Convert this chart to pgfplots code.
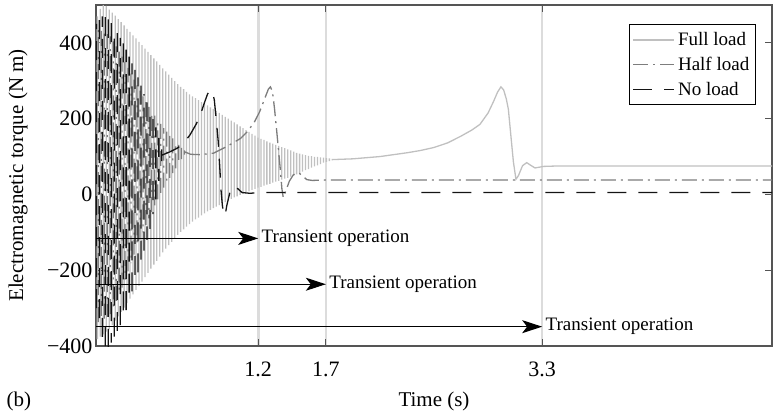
\documentclass[border=0pt]{standalone}
\usepackage{fontspec}
\setmainfont{Liberation Serif}
\usepackage{pgfplots}
\pgfplotsset{compat=1.18}
\usetikzlibrary{arrows.meta}

\definecolor{fullgray}{RGB}{192,192,192}
\definecolor{halfgray}{RGB}{125,125,125}
\definecolor{noblack}{RGB}{20,20,20}
\definecolor{markgray}{RGB}{220,220,220}
\definecolor{framegray}{RGB}{85,85,85}

\begin{document}
\begin{tikzpicture}
\useasboundingbox (-96bp,-67bp) rectangle (680bp,346bp);
\begin{axis}[
  width=676bp, height=341bp, scale only axis,
  xmin=0, xmax=5, ymin=-400, ymax=500,
  xtick={1.2,1.7,3.3}, xticklabels={1.2,1.7,3.3},
  ytick={-400,-200,0,200,400}, yticklabels={−400,−200,0,200,400},
  tick pos=both, tick align=inside, major tick length=7bp,
  tick style={framegray, line width=1bp},
  axis line style={framegray, line width=1.2bp},
  xmajorgrids, major grid style={markgray, line width=2.6bp},
  unbounded coords=jump,
  tick label style={font=\rmfamily\fontsize{22bp}{26bp}\selectfont},
  label style={font=\rmfamily\fontsize{21bp}{25bp}\selectfont},
  xticklabel style={yshift=-12bp},
  xlabel={Time (s)}, ylabel={Electromagnetic torque (N m)},
  xlabel style={at={(axis description cs:0.5,-0.176)}, anchor=base},
  ylabel style={at={(axis description cs:-0.1154,0.5)}, anchor=center},
  legend style={at={(0.976,0.944)}, anchor=north east, draw=black,
    line width=1bp, font=\rmfamily\fontsize{19bp}{22bp}\selectfont,
    inner xsep=3bp, inner ysep=4bp, row sep=2bp,
    nodes={inner xsep=3bp, inner ysep=4bp}, cells={anchor=west}},
  legend image code/.code={\draw[#1] (0bp,0bp) -- (41bp,0bp);},
]

% Full load: 50 Hz pulsation (one bar per cycle, trough to crest), then the run-up
\addplot[fullgray, line width=1.3bp] table[row sep=\\] {
t y \\
0.010 -382 \\ 0.010 470 \\ nan nan \\
0.032 -375 \\ 0.032 490 \\ nan nan \\
0.054 -369 \\ 0.054 500 \\ nan nan \\
0.076 -362 \\ 0.076 498 \\ nan nan \\
0.098 -356 \\ 0.098 488 \\ nan nan \\
0.120 -345 \\ 0.120 480 \\ nan nan \\
0.142 -333 \\ 0.142 472 \\ nan nan \\
0.164 -322 \\ 0.164 463 \\ nan nan \\
0.186 -310 \\ 0.186 455 \\ nan nan \\
0.208 -299 \\ 0.208 446 \\ nan nan \\
0.230 -287 \\ 0.230 437 \\ nan nan \\
0.252 -275 \\ 0.252 429 \\ nan nan \\
0.274 -264 \\ 0.274 420 \\ nan nan \\
0.296 -252 \\ 0.296 412 \\ nan nan \\
0.318 -241 \\ 0.318 403 \\ nan nan \\
0.340 -230 \\ 0.340 394 \\ nan nan \\
0.362 -218 \\ 0.362 385 \\ nan nan \\
0.384 -207 \\ 0.384 376 \\ nan nan \\
0.406 -196 \\ 0.406 368 \\ nan nan \\
0.428 -185 \\ 0.428 359 \\ nan nan \\
0.450 -175 \\ 0.450 351 \\ nan nan \\
0.472 -164 \\ 0.472 342 \\ nan nan \\
0.494 -153 \\ 0.494 333 \\ nan nan \\
0.516 -143 \\ 0.516 325 \\ nan nan \\
0.538 -134 \\ 0.538 316 \\ nan nan \\
0.560 -125 \\ 0.560 308 \\ nan nan \\
0.582 -116 \\ 0.582 299 \\ nan nan \\
0.604 -107 \\ 0.604 291 \\ nan nan \\
0.626 -99 \\ 0.626 284 \\ nan nan \\
0.648 -92 \\ 0.648 278 \\ nan nan \\
0.670 -85 \\ 0.670 271 \\ nan nan \\
0.692 -78 \\ 0.692 264 \\ nan nan \\
0.714 -72 \\ 0.714 259 \\ nan nan \\
0.736 -66 \\ 0.736 254 \\ nan nan \\
0.758 -61 \\ 0.758 249 \\ nan nan \\
0.780 -55 \\ 0.780 244 \\ nan nan \\
0.802 -50 \\ 0.802 240 \\ nan nan \\
0.824 -45 \\ 0.824 235 \\ nan nan \\
0.846 -41 \\ 0.846 230 \\ nan nan \\
0.868 -36 \\ 0.868 225 \\ nan nan \\
0.890 -32 \\ 0.890 220 \\ nan nan \\
0.912 -28 \\ 0.912 215 \\ nan nan \\
0.934 -24 \\ 0.934 210 \\ nan nan \\
0.956 -20 \\ 0.956 205 \\ nan nan \\
0.978 -16 \\ 0.978 200 \\ nan nan \\
1.000 -12 \\ 1.000 195 \\ nan nan \\
1.022 -8 \\ 1.022 190 \\ nan nan \\
1.044 -5 \\ 1.044 185 \\ nan nan \\
1.066 -1 \\ 1.066 180 \\ nan nan \\
1.088 2 \\ 1.088 175 \\ nan nan \\
1.110 5 \\ 1.110 170 \\ nan nan \\
1.132 8 \\ 1.132 165 \\ nan nan \\
1.154 12 \\ 1.154 160 \\ nan nan \\
1.176 15 \\ 1.176 155 \\ nan nan \\
1.198 18 \\ 1.198 150 \\ nan nan \\
1.220 20 \\ 1.220 147 \\ nan nan \\
1.242 23 \\ 1.242 144 \\ nan nan \\
1.264 26 \\ 1.264 140 \\ nan nan \\
1.286 28 \\ 1.286 137 \\ nan nan \\
1.308 31 \\ 1.308 134 \\ nan nan \\
1.330 34 \\ 1.330 131 \\ nan nan \\
1.352 36 \\ 1.352 128 \\ nan nan \\
1.374 39 \\ 1.374 125 \\ nan nan \\
1.396 42 \\ 1.396 122 \\ nan nan \\
1.418 44 \\ 1.418 119 \\ nan nan \\
1.440 47 \\ 1.440 116 \\ nan nan \\
1.462 50 \\ 1.462 113 \\ nan nan \\
1.484 53 \\ 1.484 110 \\ nan nan \\
1.506 56 \\ 1.506 108 \\ nan nan \\
1.528 60 \\ 1.528 106 \\ nan nan \\
1.550 64 \\ 1.550 104 \\ nan nan \\
1.572 67 \\ 1.572 102 \\ nan nan \\
1.594 71 \\ 1.594 101 \\ nan nan \\
1.616 74 \\ 1.616 99 \\ nan nan \\
1.638 77 \\ 1.638 99 \\ nan nan \\
1.660 80 \\ 1.660 98 \\ nan nan \\
1.682 84 \\ 1.682 97 \\ nan nan \\
1.704 86 \\ 1.704 96 \\ nan nan \\
1.726 88 \\ 1.726 95 \\ nan nan \\
1.748 90 \\ 1.748 94 \\ nan nan \\
1.75 92 \\ 1.90 94 \\ 2.00 97 \\ 2.10 100 \\ 2.20 105 \\ 2.30 110 \\
2.40 116 \\ 2.50 124 \\ 2.60 136 \\ 2.70 154 \\ 2.78 170 \\ 2.84 185 \\
2.90 215 \\ 2.94 245 \\ 2.97 270 \\ 2.995 284 \\ 3.015 276 \\ 3.035 252 \\
3.05 225 \\ 3.07 150 \\ 3.087 87 \\ 3.106 40 \\ 3.125 50 \\ 3.155 76 \\
3.186 84 \\ 3.215 77 \\ 3.247 70 \\ 3.28 72 \\ 3.31 74 \\ 3.40 75 \\ 5.00 75 \\
};
\addlegendentry{Full load}

% Half load (bars drawn alternately up and down)
\addplot[halfgray, line width=1.3bp, dash pattern=on 15bp off 5bp on 2bp off 5bp] table[row sep=\\] {
t y \\
0.017 -337 \\ 0.017 437 \\ nan nan \\
0.039 432 \\ 0.039 -332 \\ nan nan \\
0.061 -328 \\ 0.061 428 \\ nan nan \\
0.083 423 \\ 0.083 -323 \\ nan nan \\
0.105 -316 \\ 0.105 417 \\ nan nan \\
0.127 404 \\ 0.127 -298 \\ nan nan \\
0.149 -281 \\ 0.149 391 \\ nan nan \\
0.171 377 \\ 0.171 -263 \\ nan nan \\
0.193 -246 \\ 0.193 364 \\ nan nan \\
0.215 350 \\ 0.215 -225 \\ nan nan \\
0.237 -203 \\ 0.237 334 \\ nan nan \\
0.259 319 \\ 0.259 -181 \\ nan nan \\
0.281 -159 \\ 0.281 303 \\ nan nan \\
0.303 288 \\ 0.303 -137 \\ nan nan \\
0.325 -119 \\ 0.325 274 \\ nan nan \\
0.347 259 \\ 0.347 -100 \\ nan nan \\
0.369 -81 \\ 0.369 245 \\ nan nan \\
0.391 231 \\ 0.391 -63 \\ nan nan \\
0.413 -46 \\ 0.413 219 \\ nan nan \\
0.435 208 \\ 0.435 -29 \\ nan nan \\
0.457 -13 \\ 0.457 197 \\ nan nan \\
0.479 186 \\ 0.479 3 \\ nan nan \\
0.501 18 \\ 0.501 175 \\ nan nan \\
0.523 166 \\ 0.523 31 \\ nan nan \\
0.545 44 \\ 0.545 157 \\ nan nan \\
0.567 148 \\ 0.567 56 \\ nan nan \\
0.589 69 \\ 0.589 139 \\ nan nan \\
0.611 131 \\ 0.611 81 \\ nan nan \\
0.633 93 \\ 0.633 123 \\ nan nan \\
0.655 116 \\ 0.655 105 \\ nan nan \\
0.66 112 \\ 0.70 106 \\ 0.77 105 \\ 0.87 109 \\ 0.97 127 \\ 1.07 148 \\
1.12 166 \\ 1.17 190 \\ 1.21 218 \\ 1.25 255 \\ 1.275 278 \\ 1.29 284 \\
1.305 272 \\ 1.32 228 \\ 1.337 166 \\ 1.36 79 \\ 1.375 15 \\ 1.385 -8 \\
1.40 5 \\ 1.43 35 \\ 1.46 52 \\ 1.50 57 \\ 1.53 48 \\ 1.56 39 \\
1.60 37 \\ 1.70 38 \\ 5.00 38 \\
};
\addlegendentry{Half load}

% No load (bars drawn alternately up and down)
\addplot[noblack, line width=1.3bp, dash pattern=on 19bp off 12bp] table[row sep=\\] {
t y \\
0.003 -300 \\ 0.003 450 \\ nan nan \\
0.025 460 \\ 0.025 -340 \\ nan nan \\
0.047 -376 \\ 0.047 470 \\ nan nan \\
0.069 468 \\ 0.069 -415 \\ nan nan \\
0.091 -405 \\ 0.091 462 \\ nan nan \\
0.113 452 \\ 0.113 -391 \\ nan nan \\
0.135 -375 \\ 0.135 439 \\ nan nan \\
0.157 426 \\ 0.157 -360 \\ nan nan \\
0.179 -345 \\ 0.179 413 \\ nan nan \\
0.201 399 \\ 0.201 -329 \\ nan nan \\
0.223 -305 \\ 0.223 382 \\ nan nan \\
0.245 364 \\ 0.245 -280 \\ nan nan \\
0.267 -256 \\ 0.267 346 \\ nan nan \\
0.289 329 \\ 0.289 -232 \\ nan nan \\
0.311 -206 \\ 0.311 309 \\ nan nan \\
0.333 287 \\ 0.333 -177 \\ nan nan \\
0.355 -148 \\ 0.355 265 \\ nan nan \\
0.377 243 \\ 0.377 -120 \\ nan nan \\
0.399 -91 \\ 0.399 221 \\ nan nan \\
0.421 199 \\ 0.421 -52 \\ nan nan \\
0.443 -13 \\ 0.443 177 \\ nan nan \\
0.465 149 \\ 0.465 36 \\ nan nan \\
0.487 88 \\ 0.487 119 \\ nan nan \\
0.49 104 \\ 0.55 113 \\ 0.60 122 \\ 0.64 132 \\ 0.695 157 \\ 0.74 185 \\
0.77 208 \\ 0.80 240 \\ 0.825 265 \\ 0.845 276 \\ 0.86 272 \\ 0.875 250 \\
0.89 195 \\ 0.904 140 \\ 0.915 75 \\ 0.925 10 \\ 0.935 -30 \\ 0.945 -52 \\
0.955 -56 \\ 0.967 -30 \\ 0.99 5 \\ 1.015 22 \\ 1.04 18 \\ 1.08 5 \\
1.14 3 \\ 1.20 5 \\ 5.00 5 \\
};
\addlegendentry{No load}

% transient intervals
\draw[black, line width=1bp, -{Stealth[length=20bp,width=13bp,inset=5bp]}]
  (axis cs:0,-116) -- (axis cs:1.2,-116)
  node[anchor=west, inner sep=3bp, font=\rmfamily\fontsize{19bp}{22bp}\selectfont] {Transient operation};
\draw[black, line width=1bp, -{Stealth[length=20bp,width=13bp,inset=5bp]}]
  (axis cs:0,-237) -- (axis cs:1.7,-237)
  node[anchor=west, inner sep=3bp, font=\rmfamily\fontsize{19bp}{22bp}\selectfont] {Transient operation};
\draw[black, line width=1bp, -{Stealth[length=20bp,width=13bp,inset=5bp]}]
  (axis cs:0,-349) -- (axis cs:3.3,-349)
  node[anchor=west, inner sep=3bp, font=\rmfamily\fontsize{19bp}{22bp}\selectfont] {Transient operation};
\end{axis}
\node[anchor=base west, font=\rmfamily\fontsize{21bp}{25bp}\selectfont] at (-93bp,-60bp) {(b)};
\end{tikzpicture}
\end{document}
